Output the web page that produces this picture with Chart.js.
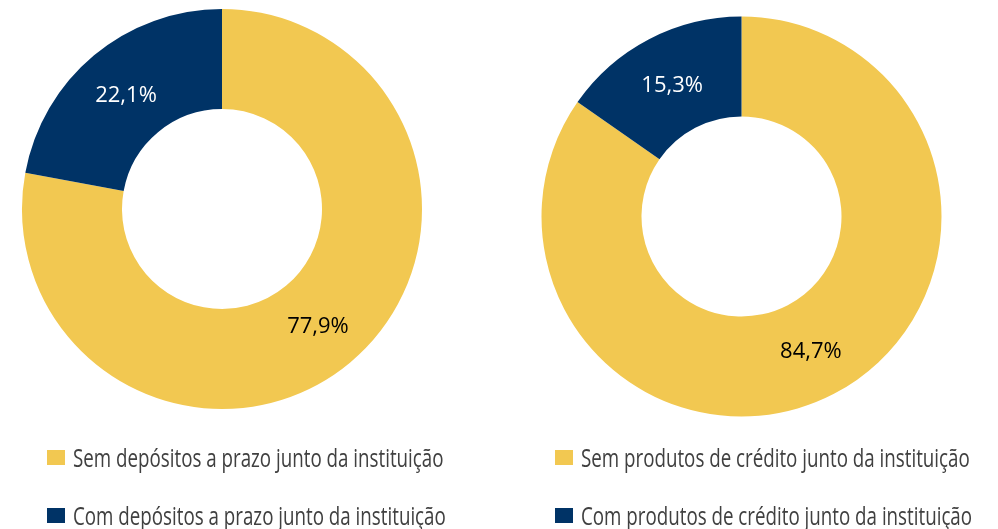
<!DOCTYPE html>
<html>
<head>
<meta charset="utf-8">
<script src="https://cdn.jsdelivr.net/npm/chart.js@4"></script>
<style>
  html, body { margin: 0; padding: 0; background: #fff; }
  body { width: 998px; height: 529px; position: relative; overflow: hidden; }
  .box { position: absolute; }
  .legend { position: absolute; margin: 0; padding: 0; list-style: none; }
  .legend li { display: flex; align-items: center; height: 58.5px; white-space: nowrap; }
  .legend .swatch { width: 18px; height: 15px; margin-right: 8px; flex: none; }
  .legend .txt { font-family: "Open Sans", sans-serif; font-size: 25px; line-height: 1; color: #404040;
                 display: inline-block; transform: scaleX(0.75); transform-origin: left center; }
</style>
</head>
<body>
<div class="box" style="left:0; top:0; width:444px; height:418px;"><canvas id="depositosChart"></canvas></div>
<div class="box" style="left:520px; top:0; width:443px; height:433px;"><canvas id="creditoChart"></canvas></div>
<ul class="legend" id="depositosLegend" style="left:47px; top:428px;"></ul>
<ul class="legend" id="creditoLegend" style="left:555px; top:428px;"></ul>
<script>
// Data
const depositosLabels = ['Sem depósitos a prazo junto da instituição', 'Com depósitos a prazo junto da instituição'];
const depositosValues = [77.9, 22.1];
const creditoLabels = ['Sem produtos de crédito junto da instituição', 'Com produtos de crédito junto da instituição'];
const creditoValues = [84.7, 15.3];
const sliceColors = ['#F2C851', '#003366'];
const labelColors = ['#000000', '#ffffff'];

// Percent labels in the middle of each ring segment
const sliceLabels = {
    id: 'sliceLabels',
    afterDatasetsDraw(chart) {
        const ctx = chart.ctx;
        const data = chart.data.datasets[0].data;
        ctx.save();
        ctx.font = '22px "Open Sans", sans-serif';
        ctx.textAlign = 'center';
        ctx.textBaseline = 'middle';
        chart.getDatasetMeta(0).data.forEach((arc, i) => {
            const p = arc.tooltipPosition();
            ctx.fillStyle = labelColors[i];
            ctx.fillText(data[i].toFixed(1).replace('.', ',') + '%', p.x, p.y + 2);
        });
        ctx.restore();
    }
};

// Legend built in HTML so the text can be condensed like the original
const htmlLegend = {
    id: 'htmlLegend',
    afterUpdate(chart, args, opts) {
        const ul = document.getElementById(opts.containerID);
        ul.innerHTML = '';
        const items = chart.options.plugins.legend.labels.generateLabels(chart);
        items.forEach(item => {
            const li = document.createElement('li');
            const sw = document.createElement('span');
            sw.className = 'swatch';
            sw.style.background = item.fillStyle;
            const tx = document.createElement('span');
            tx.className = 'txt';
            tx.textContent = item.text;
            li.appendChild(sw);
            li.appendChild(tx);
            ul.appendChild(li);
        });
    }
};

const makeDoughnut = (id, labels, values, legendId) => {
    const ctx = document.getElementById(id).getContext('2d');
    return new Chart(ctx, {
        type: 'doughnut',
        data: {
            labels: labels,
            datasets: [{
                data: values,
                backgroundColor: sliceColors,
                borderWidth: 0,
                hoverOffset: 0
            }]
        },
        options: {
            responsive: true,
            maintainAspectRatio: false,
            animation: false,
            radius: 200,
            cutout: '50%',
            layout: { padding: 0 },
            plugins: {
                legend: { display: false },
                tooltip: { enabled: false },
                htmlLegend: { containerID: legendId }
            }
        },
        plugins: [sliceLabels, htmlLegend]
    });
};

makeDoughnut('depositosChart', depositosLabels, depositosValues, 'depositosLegend');
makeDoughnut('creditoChart', creditoLabels, creditoValues, 'creditoLegend');
</script>
</body>
</html>
